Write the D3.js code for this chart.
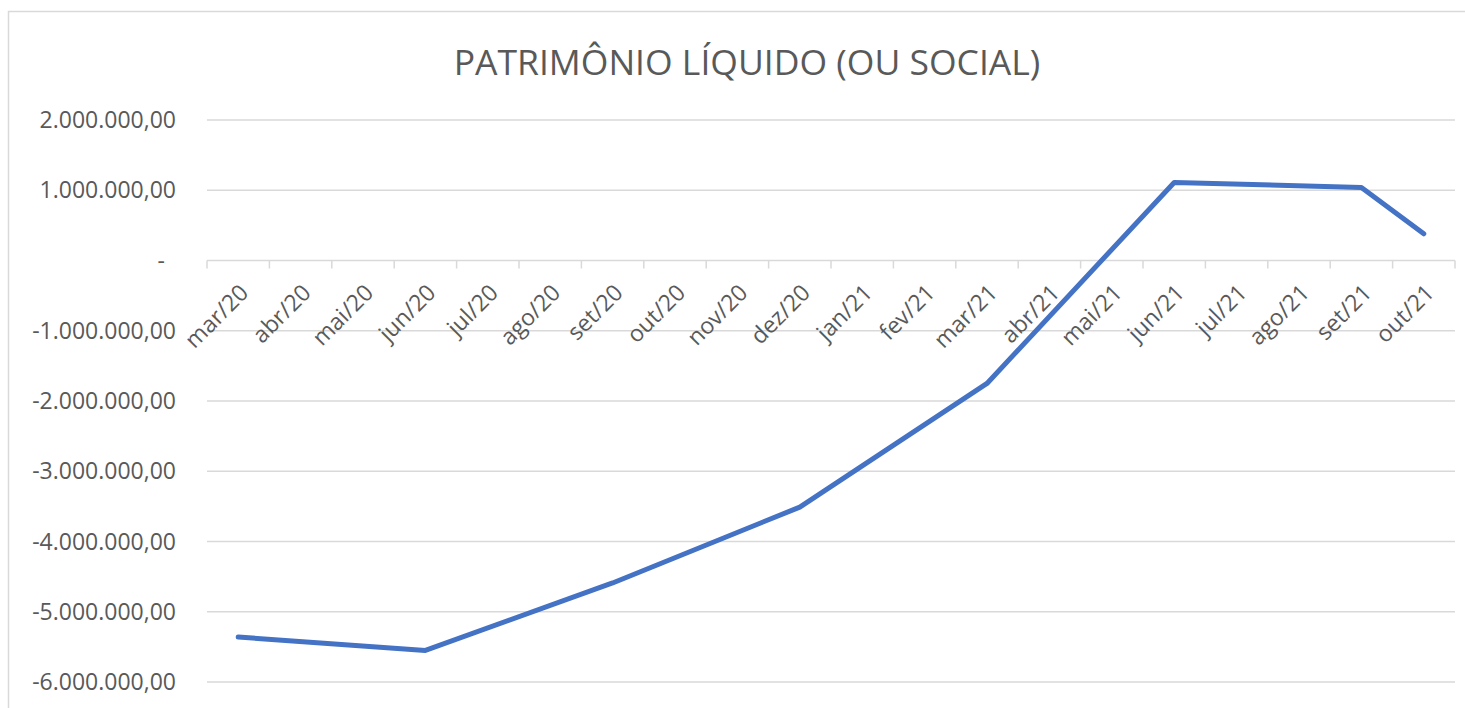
<!DOCTYPE html>
<html>
<head>
<meta charset="utf-8">
<style>
  body { margin: 0; background: #fff; }
  text { font-family: "Open Sans", sans-serif; fill: #595959; }
</style>
</head>
<body>
<svg width="1465" height="708"></svg>
<script src="https://d3js.org/d3.v7.min.js"></script>
<script>
// months on the category axis
var months = ["mar/20", "abr/20", "mai/20", "jun/20", "jul/20", "ago/20", "set/20", "out/20",
  "nov/20", "dez/20", "jan/21", "fev/21", "mar/21", "abr/21", "mai/21", "jun/21",
  "jul/21", "ago/21", "set/21", "out/21"];

// only some months have a value, the line joins them
var valueMonths = ["mar/20", "jun/20", "set/20", "dez/20", "mar/21", "jun/21", "set/21", "out/21"];
var values = [-5360000, -5550000, -4590000, -3510000, -1750000, 1110000, 1040000, 380000];

var yTicks = [2000000, 1000000, 0, -1000000, -2000000, -3000000, -4000000, -5000000, -6000000];

var svg = d3.select("svg");

// chart frame
svg.append("rect")
  .attr("x", 8.5).attr("y", 11.5)
  .attr("width", 1470).attr("height", 710)
  .attr("fill", "none")
  .attr("stroke", "#d9d9d9")
  .attr("stroke-width", 1.5);

svg.append("text")
  .attr("x", 747).attr("y", 75)
  .attr("text-anchor", "middle")
  .style("font-size", "35.5px")
  .text("PATRIMÔNIO LÍQUIDO (OU SOCIAL)");

var x = d3.scaleBand().domain(months).range([207, 1455]);
var y = d3.scaleLinear().domain([-6000000, 2000000]).range([682, 120]);

var fmt = d3.formatLocale({ decimal: ",", thousands: ".", grouping: [3], currency: ["", ""], minus: "-" }).format(",.2f");

// gridlines
svg.append("g")
  .selectAll("line")
  .data(yTicks)
  .enter().append("line")
  .attr("x1", 207).attr("x2", 1455)
  .attr("y1", function (d) { return y(d); })
  .attr("y2", function (d) { return y(d); })
  .attr("stroke", "#d9d9d9")
  .attr("stroke-width", 1.5);

// y labels
svg.append("g")
  .selectAll("text")
  .data(yTicks)
  .enter().append("text")
  .attr("x", function (d) { return d === 0 ? 165 : 176; })
  .attr("y", function (d) { return y(d); })
  .attr("dy", "0.35em")
  .attr("text-anchor", "end")
  .style("font-size", "23px")
  .text(function (d) { return d === 0 ? "-" : fmt(d); });

// category axis at zero
var xAxis = svg.append("g")
  .attr("transform", "translate(0," + y(0) + ")")
  .call(d3.axisBottom(x).tickSize(0).tickSizeOuter(0).tickPadding(0));
xAxis.select(".domain").remove();
xAxis.selectAll(".tick text")
  .attr("text-anchor", "end")
  .attr("transform", "translate(6,28) rotate(-45)")
  .attr("dy", "0.35em")
  .style("font-size", "23px")
  .style("font-family", "'Open Sans', sans-serif")
  .attr("fill", "#595959");

// tick marks between categories
var bounds = months.map(function (m) { return x(m); }).concat([x.range()[1]]);
svg.append("g")
  .selectAll("line")
  .data(bounds)
  .enter().append("line")
  .attr("x1", function (d) { return d; })
  .attr("x2", function (d) { return d; })
  .attr("y1", y(0)).attr("y2", y(0) + 8)
  .attr("stroke", "#d9d9d9")
  .attr("stroke-width", 1.5);

var series = valueMonths.map(function (m, i) { return { m: m, v: values[i] }; });

var line = d3.line()
  .x(function (d) { return x(d.m) + x.bandwidth() / 2; })
  .y(function (d) { return y(d.v); });

svg.append("path")
  .datum(series)
  .attr("d", line)
  .attr("fill", "none")
  .attr("stroke", "#4472c4")
  .attr("stroke-width", 5)
  .attr("stroke-linecap", "round")
  .attr("stroke-linejoin", "round");
</script>
</body>
</html>
